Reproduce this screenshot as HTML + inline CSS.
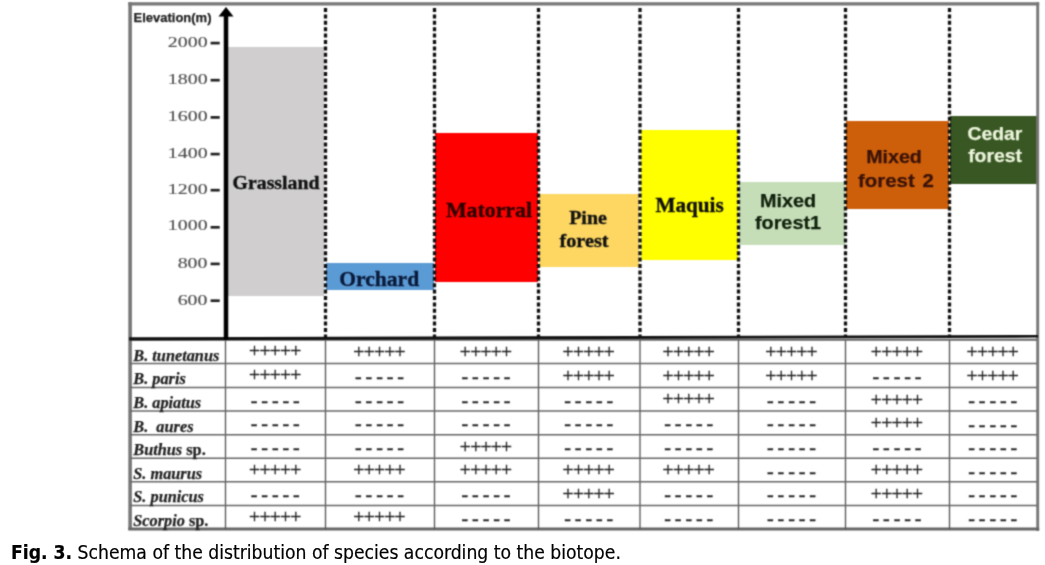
<!DOCTYPE html>
<html><head><meta charset="utf-8"><title>Fig. 3</title>
<style>
html,body{margin:0;padding:0;background:#fff;}
body{width:1045px;height:565px;position:relative;overflow:hidden;font-family:"Liberation Sans",sans-serif;}
#fig{position:absolute;left:0;top:0;width:1045px;height:565px;}
.box{position:absolute;}
.lb{position:absolute;white-space:nowrap;line-height:1;transform-origin:50% 50%;}
.lbl{position:absolute;white-space:nowrap;text-align:center;transform:translate(-50%,-50%);line-height:1;}
.serif{font-family:"Liberation Serif",serif;font-weight:bold;color:#111;-webkit-text-stroke:0.35px currentColor;}
.sans{font-family:"Liberation Sans",sans-serif;font-weight:bold;color:#111;-webkit-text-stroke:0.25px currentColor;}
.tick{position:absolute;font-family:"Liberation Serif",serif;font-size:14.3px;color:#505050;-webkit-text-stroke:0.15px #505050;line-height:1;white-space:nowrap;transform-origin:100% 50%;text-align:right;}
.dash{position:absolute;background:#222;height:3px;width:9px;}
.sp{position:absolute;left:133.3px;font-family:"Liberation Serif",serif;font-weight:bold;font-size:16.3px;color:#222;-webkit-text-stroke:0.25px #222;line-height:1;white-space:nowrap;}
.cell{position:absolute;font-family:"Liberation Serif",serif;font-size:19.5px;color:#222;-webkit-text-stroke:0.35px #222;line-height:1;white-space:nowrap;transform:translate(-50%,-50%);}
.cap{position:absolute;left:11.4px;top:541.3px;transform:scaleX(0.958);transform-origin:0 0;font-family:"DejaVu Sans Condensed","DejaVu Sans","Liberation Sans",sans-serif;font-size:20px;color:#000;-webkit-text-stroke:0.2px #000;line-height:22px;white-space:nowrap;}
#chart{position:absolute;left:0;top:0;width:1045px;height:536px;filter:url(#soft);}
</style></head><body><svg width="0" height="0" style="position:absolute"><defs><filter id="soft" x="0" y="0" width="100%" height="100%" color-interpolation-filters="sRGB"><feConvolveMatrix order="3" kernelMatrix="1 3 1 3 9 3 1 3 1" divisor="25" edgeMode="duplicate" preserveAlpha="false"/></filter></defs></svg><div id="fig"><div id="chart">

<div class="box" style="left:228px;top:47.4px;width:96px;height:248.9px;background:#d0cecf"></div>
<div class="box" style="left:326px;top:263px;width:108px;height:27.399999999999977px;background:#5b9bd5"></div>
<div class="box" style="left:435px;top:133px;width:103px;height:149.39999999999998px;background:#ff0000"></div>
<div class="box" style="left:539px;top:194px;width:100px;height:72.5px;background:#fdd762"></div>
<div class="box" style="left:641px;top:130px;width:97px;height:130.2px;background:#ffff00"></div>
<div class="box" style="left:739px;top:182px;width:106px;height:62.5px;background:#c5deb8"></div>
<div class="box" style="left:846px;top:121px;width:103px;height:87.69999999999999px;background:#cd5f0b"></div>
<div class="box" style="left:950px;top:115.5px;width:86.5px;height:68.30000000000001px;background:#385723"></div>
<svg class="box" style="left:0;top:0" width="1045" height="565" viewBox="0 0 1045 565">
<line x1="128.3" y1="3.8" x2="1039.2" y2="3.8" stroke="#777" stroke-width="3.3"/>
<line x1="130.1" y1="2.2" x2="130.1" y2="530" stroke="#777" stroke-width="3.6"/>
<line x1="1037.7" y1="2.2" x2="1037.7" y2="531" stroke="#777" stroke-width="2.9"/>
<line x1="128.3" y1="529.1" x2="1039.2" y2="529.1" stroke="#666" stroke-width="3"/>
<line x1="325.5" y1="8" x2="325.5" y2="338" stroke="#111" stroke-width="3.3" stroke-dasharray="4 2.4"/>
<line x1="434.5" y1="8" x2="434.5" y2="338" stroke="#111" stroke-width="3.3" stroke-dasharray="4 2.4"/>
<line x1="538.5" y1="8" x2="538.5" y2="338" stroke="#111" stroke-width="3.3" stroke-dasharray="4 2.4"/>
<line x1="640" y1="8" x2="640" y2="338" stroke="#111" stroke-width="3.3" stroke-dasharray="4 2.4"/>
<line x1="738.5" y1="8" x2="738.5" y2="338" stroke="#111" stroke-width="3.3" stroke-dasharray="4 2.4"/>
<line x1="845.5" y1="8" x2="845.5" y2="338" stroke="#111" stroke-width="3.3" stroke-dasharray="4 2.4"/>
<line x1="949.5" y1="8" x2="949.5" y2="338" stroke="#111" stroke-width="3.3" stroke-dasharray="4 2.4"/>
<line x1="225.5" y1="340" x2="225.5" y2="529" stroke="#555" stroke-width="1.3"/>
<line x1="325.5" y1="340" x2="325.5" y2="529" stroke="#555" stroke-width="1.3"/>
<line x1="434.5" y1="340" x2="434.5" y2="529" stroke="#555" stroke-width="1.3"/>
<line x1="538.5" y1="340" x2="538.5" y2="529" stroke="#555" stroke-width="1.3"/>
<line x1="640" y1="340" x2="640" y2="529" stroke="#555" stroke-width="1.3"/>
<line x1="738.5" y1="340" x2="738.5" y2="529" stroke="#555" stroke-width="1.3"/>
<line x1="845.5" y1="340" x2="845.5" y2="529" stroke="#555" stroke-width="1.3"/>
<line x1="949.5" y1="340" x2="949.5" y2="529" stroke="#555" stroke-width="1.3"/>
<line x1="130" y1="339.65" x2="1037" y2="339.65" stroke="#666" stroke-width="2"/>
<line x1="130" y1="363.4" x2="1037" y2="363.4" stroke="#666" stroke-width="1.5"/>
<line x1="130" y1="387.5" x2="1037" y2="387.5" stroke="#666" stroke-width="1.5"/>
<line x1="130" y1="411.05" x2="1037" y2="411.05" stroke="#666" stroke-width="1.5"/>
<line x1="130" y1="434.75" x2="1037" y2="434.75" stroke="#666" stroke-width="1.5"/>
<line x1="130" y1="458.3" x2="1037" y2="458.3" stroke="#666" stroke-width="1.5"/>
<line x1="130" y1="481.8" x2="1037" y2="481.8" stroke="#666" stroke-width="1.5"/>
<line x1="130" y1="505.45" x2="1037" y2="505.45" stroke="#666" stroke-width="1.5"/>
<polygon points="129,337.3 1038,335.0 1038,337.6 129,340.4" fill="#111"/>
<line x1="226" y1="14" x2="226" y2="340" stroke="#000" stroke-width="4.5"/>
<polygon points="226,7 233.5,16.5 218.5,16.5" fill="#000"/>
<line x1="210.6" y1="43.1" x2="219.7" y2="43.1" stroke="#222" stroke-width="2.7"/>
<line x1="210.6" y1="80.2" x2="219.7" y2="80.2" stroke="#222" stroke-width="2.7"/>
<line x1="210.6" y1="117.4" x2="219.7" y2="117.4" stroke="#222" stroke-width="2.7"/>
<line x1="210.6" y1="154.1" x2="219.7" y2="154.1" stroke="#222" stroke-width="2.7"/>
<line x1="210.6" y1="190.2" x2="219.7" y2="190.2" stroke="#222" stroke-width="2.7"/>
<line x1="210.6" y1="227.3" x2="219.7" y2="227.3" stroke="#222" stroke-width="2.7"/>
<line x1="210.6" y1="263.9" x2="219.7" y2="263.9" stroke="#222" stroke-width="2.7"/>
<line x1="210.6" y1="300.7" x2="219.7" y2="300.7" stroke="#222" stroke-width="2.7"/>
</svg>
<div class="tick" style="right:837.2px;top:35.40px;transform:scaleX(1.39)">2000</div>
<div class="tick" style="right:837.2px;top:71.90px;transform:scaleX(1.39)">1800</div>
<div class="tick" style="right:837.2px;top:109.30px;transform:scaleX(1.39)">1600</div>
<div class="tick" style="right:837.2px;top:146.00px;transform:scaleX(1.39)">1400</div>
<div class="tick" style="right:837.2px;top:181.70px;transform:scaleX(1.39)">1200</div>
<div class="tick" style="right:837.2px;top:218.40px;transform:scaleX(1.39)">1000</div>
<div class="tick" style="right:837.2px;top:256.20px;transform:scaleX(1.39)">800</div>
<div class="tick" style="right:837.2px;top:292.50px;transform:scaleX(1.39)">600</div>
<div class="lbl sans" style="left:172.5px;top:16.9px;font-size:13px;color:#222">Elevation(m)</div>
<div class="lb serif" style="left:276.1px;top:173.54px;font-size:18.4px;color:#111;transform:translateX(-50%) scaleX(1.075);">Grassland</div>
<div class="lb serif" style="left:379.2px;top:269.11px;font-size:21.6px;color:#0a1a3a;transform:translateX(-50%) scaleX(1.0);">Orchard</div>
<div class="lb serif" style="left:489.0px;top:199.73px;font-size:21.1px;color:#300000;transform:translateX(-50%) scaleX(1.036);">Matorral</div>
<div class="lb serif" style="left:587.5px;top:208.64px;font-size:18.7px;color:#111;transform:translateX(-50%) scaleX(1.065);">Pine</div>
<div class="lb serif" style="left:583.7px;top:231.49px;font-size:19.0px;color:#111;transform:translateX(-50%) scaleX(1.065);">forest</div>
<div class="lb serif" style="left:689.6px;top:194.55px;font-size:21.2px;color:#111;transform:translateX(-50%) scaleX(1.0);">Maquis</div>
<div class="lb sans" style="left:788.2px;top:191.77px;font-size:18.7px;color:#10200c;transform:translateX(-50%) scaleX(1.06);">Mixed</div>
<div class="lb sans" style="left:788.2px;top:213.67px;font-size:18.7px;color:#10200c;transform:translateX(-50%) scaleX(1.06);">forest1</div>
<div class="lb sans" style="left:894.0px;top:147.69px;font-size:18.2px;color:#3a1208;transform:translateX(-50%) scaleX(1.08);">Mixed</div>
<div class="lb sans" style="left:896.0px;top:172.49px;font-size:18.2px;color:#3a1208;transform:translateX(-50%) scaleX(1.12);word-spacing:2px;">forest 2</div>
<div class="lb sans" style="left:994.5px;top:125.06px;font-size:18.6px;color:#ecf4dc;transform:translateX(-50%) scaleX(1.04);">Cedar</div>
<div class="lb sans" style="left:994.5px;top:147.16px;font-size:18.6px;color:#ecf4dc;transform:translateX(-50%) scaleX(1.04);">forest</div>
<div class="sp" style="top:347.59px"><i>B. tunetanus</i></div>
<div class="cell" style="left:274.85px;top:351.42px;letter-spacing:-0.7px">+++++</div>
<div class="cell" style="left:379.10px;top:351.51px;letter-spacing:-0.7px">+++++</div>
<div class="cell" style="left:485.60px;top:351.59px;letter-spacing:-0.7px">+++++</div>
<div class="cell" style="left:588.35px;top:351.68px;letter-spacing:-0.7px">+++++</div>
<div class="cell" style="left:688.35px;top:351.76px;letter-spacing:-0.7px">+++++</div>
<div class="cell" style="left:791.10px;top:351.85px;letter-spacing:-0.7px">+++++</div>
<div class="cell" style="left:896.60px;top:351.93px;letter-spacing:-0.7px">+++++</div>
<div class="cell" style="left:992.35px;top:352.01px;letter-spacing:-0.7px">+++++</div>
<div class="sp" style="top:371.38px"><i>B. paris</i></div>
<div class="cell" style="left:274.85px;top:375.33px;letter-spacing:-0.7px">+++++</div>
<div class="cell" style="left:379.50px;top:375.72px;font-size:20px;word-spacing:-1.1px">- - - - -</div>
<div class="cell" style="left:486.00px;top:375.81px;font-size:20px;word-spacing:-1.1px">- - - - -</div>
<div class="cell" style="left:588.35px;top:375.61px;letter-spacing:-0.7px">+++++</div>
<div class="cell" style="left:688.35px;top:375.69px;letter-spacing:-0.7px">+++++</div>
<div class="cell" style="left:791.10px;top:375.78px;letter-spacing:-0.7px">+++++</div>
<div class="cell" style="left:897.00px;top:376.18px;font-size:20px;word-spacing:-1.1px">- - - - -</div>
<div class="cell" style="left:992.35px;top:375.96px;letter-spacing:-0.7px">+++++</div>
<div class="sp" style="top:395.21px"><i>B. apiatus</i></div>
<div class="cell" style="left:275.25px;top:399.54px;font-size:20px;word-spacing:-1.1px">- - - - -</div>
<div class="cell" style="left:379.50px;top:399.60px;font-size:20px;word-spacing:-1.1px">- - - - -</div>
<div class="cell" style="left:486.00px;top:399.67px;font-size:20px;word-spacing:-1.1px">- - - - -</div>
<div class="cell" style="left:588.75px;top:399.73px;font-size:20px;word-spacing:-1.1px">- - - - -</div>
<div class="cell" style="left:688.35px;top:399.49px;letter-spacing:-0.7px">+++++</div>
<div class="cell" style="left:791.50px;top:399.85px;font-size:20px;word-spacing:-1.1px">- - - - -</div>
<div class="cell" style="left:896.60px;top:399.62px;letter-spacing:-0.7px">+++++</div>
<div class="cell" style="left:992.75px;top:399.97px;font-size:20px;word-spacing:-1.1px">- - - - -</div>
<div class="sp" style="top:418.70px"><i>B.&nbsp; aures</i></div>
<div class="cell" style="left:275.25px;top:423.15px;font-size:20px;word-spacing:-1.1px">- - - - -</div>
<div class="cell" style="left:379.50px;top:423.22px;font-size:20px;word-spacing:-1.1px">- - - - -</div>
<div class="cell" style="left:486.00px;top:423.29px;font-size:20px;word-spacing:-1.1px">- - - - -</div>
<div class="cell" style="left:588.75px;top:423.35px;font-size:20px;word-spacing:-1.1px">- - - - -</div>
<div class="cell" style="left:688.75px;top:423.42px;font-size:20px;word-spacing:-1.1px">- - - - -</div>
<div class="cell" style="left:791.50px;top:423.49px;font-size:20px;word-spacing:-1.1px">- - - - -</div>
<div class="cell" style="left:896.60px;top:423.26px;letter-spacing:-0.7px">+++++</div>
<div class="cell" style="left:992.75px;top:423.62px;font-size:20px;word-spacing:-1.1px">- - - - -</div>
<div class="sp" style="top:442.24px"><i>Buthus</i> sp.</div>
<div class="cell" style="left:275.25px;top:446.79px;font-size:20px;word-spacing:-1.1px">- - - - -</div>
<div class="cell" style="left:379.50px;top:446.85px;font-size:20px;word-spacing:-1.1px">- - - - -</div>
<div class="cell" style="left:485.60px;top:446.62px;letter-spacing:-0.7px">+++++</div>
<div class="cell" style="left:588.75px;top:446.98px;font-size:20px;word-spacing:-1.1px">- - - - -</div>
<div class="cell" style="left:688.75px;top:447.04px;font-size:20px;word-spacing:-1.1px">- - - - -</div>
<div class="cell" style="left:791.50px;top:447.10px;font-size:20px;word-spacing:-1.1px">- - - - -</div>
<div class="cell" style="left:897.00px;top:447.17px;font-size:20px;word-spacing:-1.1px">- - - - -</div>
<div class="cell" style="left:992.75px;top:447.22px;font-size:20px;word-spacing:-1.1px">- - - - -</div>
<div class="sp" style="top:465.77px"><i>S. maurus</i></div>
<div class="cell" style="left:274.85px;top:470.10px;letter-spacing:-0.7px">+++++</div>
<div class="cell" style="left:379.10px;top:470.13px;letter-spacing:-0.7px">+++++</div>
<div class="cell" style="left:485.60px;top:470.17px;letter-spacing:-0.7px">+++++</div>
<div class="cell" style="left:588.35px;top:470.20px;letter-spacing:-0.7px">+++++</div>
<div class="cell" style="left:688.35px;top:470.23px;letter-spacing:-0.7px">+++++</div>
<div class="cell" style="left:791.50px;top:470.57px;font-size:20px;word-spacing:-1.1px">- - - - -</div>
<div class="cell" style="left:896.60px;top:470.30px;letter-spacing:-0.7px">+++++</div>
<div class="cell" style="left:992.75px;top:470.64px;font-size:20px;word-spacing:-1.1px">- - - - -</div>
<div class="sp" style="top:489.25px"><i>S. punicus</i></div>
<div class="cell" style="left:275.25px;top:493.99px;font-size:20px;word-spacing:-1.1px">- - - - -</div>
<div class="cell" style="left:379.50px;top:494.02px;font-size:20px;word-spacing:-1.1px">- - - - -</div>
<div class="cell" style="left:486.00px;top:494.05px;font-size:20px;word-spacing:-1.1px">- - - - -</div>
<div class="cell" style="left:588.35px;top:493.78px;letter-spacing:-0.7px">+++++</div>
<div class="cell" style="left:688.75px;top:494.10px;font-size:20px;word-spacing:-1.1px">- - - - -</div>
<div class="cell" style="left:791.50px;top:494.13px;font-size:20px;word-spacing:-1.1px">- - - - -</div>
<div class="cell" style="left:896.60px;top:493.86px;letter-spacing:-0.7px">+++++</div>
<div class="cell" style="left:992.75px;top:494.19px;font-size:20px;word-spacing:-1.1px">- - - - -</div>
<div class="sp" style="top:512.62px"><i>Scorpio</i> sp.</div>
<div class="cell" style="left:274.85px;top:517.20px;letter-spacing:-0.7px">+++++</div>
<div class="cell" style="left:379.10px;top:517.28px;letter-spacing:-0.7px">+++++</div>
<div class="cell" style="left:486.00px;top:517.66px;font-size:20px;word-spacing:-1.1px">- - - - -</div>
<div class="cell" style="left:588.75px;top:517.73px;font-size:20px;word-spacing:-1.1px">- - - - -</div>
<div class="cell" style="left:688.75px;top:517.80px;font-size:20px;word-spacing:-1.1px">- - - - -</div>
<div class="cell" style="left:791.50px;top:517.87px;font-size:20px;word-spacing:-1.1px">- - - - -</div>
<div class="cell" style="left:897.00px;top:517.95px;font-size:20px;word-spacing:-1.1px">- - - - -</div>
<div class="cell" style="left:992.75px;top:518.02px;font-size:20px;word-spacing:-1.1px">- - - - -</div>
</div>
<div class="cap"><b>Fig. 3.</b> Schema of the distribution of species according to the biotope.</div>
</div></body></html>
